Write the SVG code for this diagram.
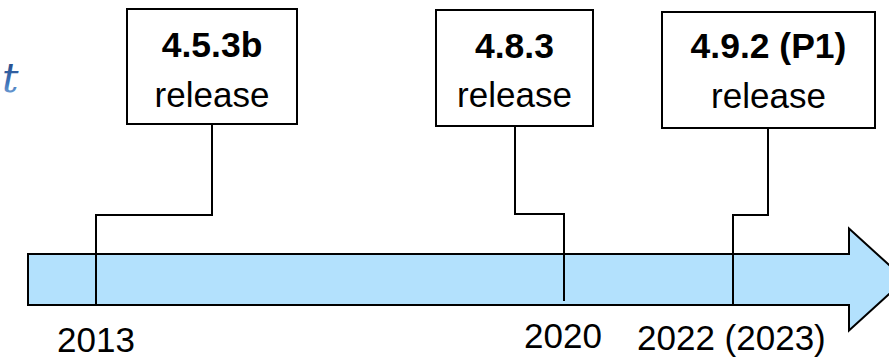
<svg xmlns="http://www.w3.org/2000/svg" width="889" height="358" viewBox="0 0 889 358">
  <defs>
    <linearGradient id="tg" x1="0" y1="0" x2="0" y2="1">
      <stop offset="0" stop-color="#1c3c78"/>
      <stop offset="0.6" stop-color="#3f74b8"/>
      <stop offset="1" stop-color="#8db8e6"/>
    </linearGradient>
  </defs>
  <style>
    .box { fill: #ffffff; stroke: #000000; stroke-width: 2; }
    .conn { fill: none; stroke: #000000; stroke-width: 2; }
    .arrow { fill: #b3e1fd; stroke: #000000; stroke-width: 2; stroke-linejoin: miter; }
    .ver { font-family: "Liberation Sans", Arial, sans-serif; font-weight: bold; font-size: 35.5px; fill: #000; text-anchor: middle; }
    .rel { font-family: "Liberation Sans", Arial, sans-serif; font-size: 35px; fill: #000; text-anchor: middle; }
    .year { font-family: "Liberation Sans", Arial, sans-serif; font-size: 35px; fill: #000; }
  </style>
  <rect width="889" height="358" fill="#ffffff"/>

  <text x="2" y="92" font-family="DejaVu Serif, serif" font-style="italic" font-size="41" fill="url(#tg)">t</text>

  <g id="timeline">
    <path class="arrow" d="M28,254 L849,254 L849,228.5 L905,279.5 L849,330.5 L849,305 L28,305 Z"/>
  </g>

  <g id="connectors">
    <polyline class="conn" points="212,124 212,215 96,215 96,305"/>
    <polyline class="conn" points="515,126 515,214 564,214 564,301"/>
    <polyline class="conn" points="768,128 768,215 733,215 733,305"/>
  </g>

  <g id="node-453b">
    <rect class="box" x="127" y="9" width="170" height="115"/>
    <text class="ver" x="212" y="57">4.5.3b</text>
    <text class="rel" x="212" y="107">release</text>
  </g>
  <g id="node-483">
    <rect class="box" x="436" y="10" width="157" height="116"/>
    <text class="ver" x="514.5" y="58">4.8.3</text>
    <text class="rel" x="514.5" y="107">release</text>
  </g>
  <g id="node-492">
    <rect class="box" x="662" y="12" width="213" height="116"/>
    <text class="ver" x="768.5" y="58">4.9.2 (P1)</text>
    <text class="rel" x="768.5" y="108">release</text>
  </g>

  <g id="labels">
    <text class="year" x="57" y="352">2013</text>
    <text class="year" x="524" y="348">2020</text>
    <text class="year" x="637" y="350">2022 (2023)</text>
  </g>
</svg>
